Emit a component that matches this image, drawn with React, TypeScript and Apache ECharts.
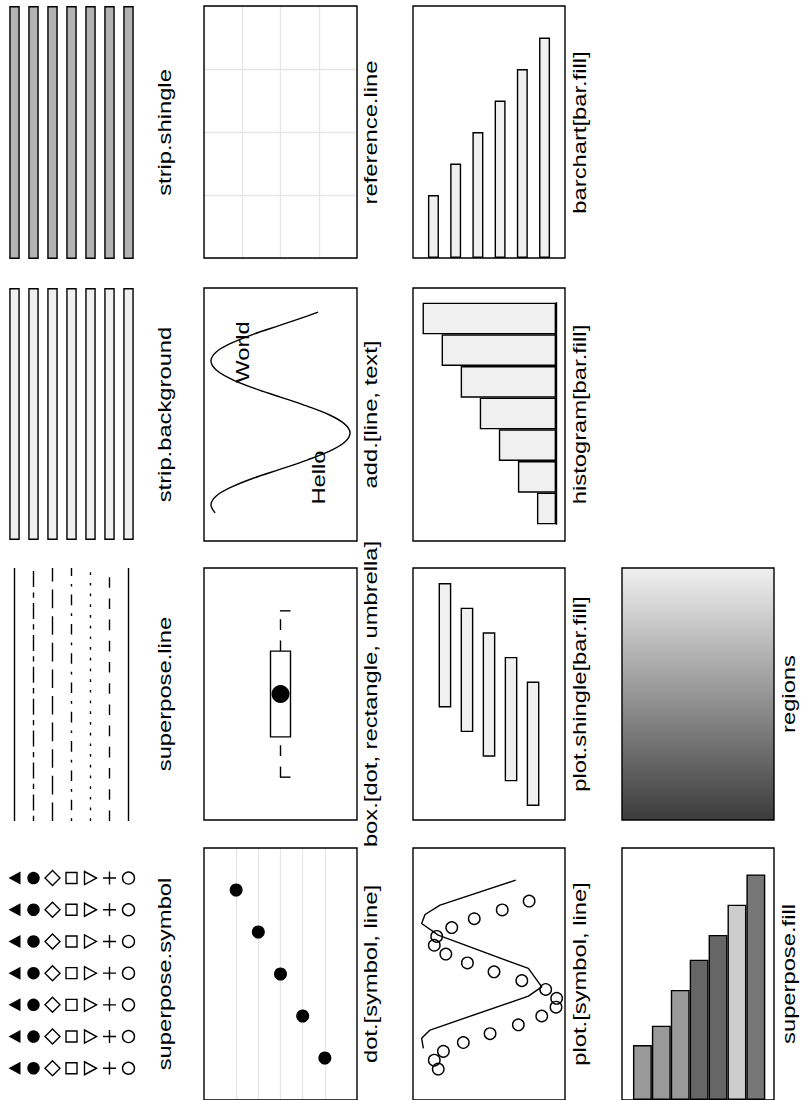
import React, { useEffect, useRef } from "react";
import * as echarts from "echarts";

// ---------------- data ----------------
const stripLevels = [1, 2, 3, 4, 5, 6, 7];
const stripHeights = [1, 1, 1, 1, 1, 1, 1];

const lineLevels = [1, 2, 3, 4, 5, 6, 7];
const lineDashes: any[] = ["solid", [5.3, 5.3, 16, 5.3], [18.6, 8], [2.7, 8, 10.6, 8], [2.7, 8], [10.6, 10.6], "solid"];

const symbolLevels = [1, 2, 3, 4, 5, 6, 7];
const symbolRows = [1, 2, 3, 4, 5, 6, 7];
const symbolKinds = ["triLeft", "dot", "diamond", "square", "triRight", "plus", "circle"];

const addLineT = [0.111, 0.142, 0.178, 0.213, 0.249, 0.284, 0.32, 0.355, 0.391, 0.427, 0.462, 0.498, 0.533, 0.569, 0.604, 0.64, 0.676, 0.711, 0.747, 0.782, 0.818, 0.853, 0.889, 0.905];
const addLineS = [0.94, 1.0, 0.924, 0.707, 0.383, 0, -0.383, -0.707, -0.924, -1, -0.924, -0.707, -0.383, 0, 0.383, 0.707, 0.924, 1, 0.924, 0.707, 0.383, 0, -0.383, -0.54];
const addTexts = ["Hello", "World"];
const addTextS = [-0.55, 0.54];
const addTextT = [0.251, 0.747];

const boxStats = [1.7, 3.3, 5.0, 6.7, 8.3];

const dotLevels = [1, 2, 3, 4, 5];
const dotValues = [5, 4, 3, 2, 1];

const barLevels = [1, 2, 3, 4, 5, 6];
const barValues = [2, 3, 4, 5, 6, 7];

const histBins = ["1", "2", "3", "4", "5", "6", "7"];
const histCounts = [1, 2, 3, 4, 5, 6, 7];

const shingleLevels = [1, 2, 3, 4, 5];
const shingleLow = [4.6, 3.6, 2.6, 1.6, 0.6];
const shingleHigh = [9.6, 8.6, 7.6, 6.6, 5.6];

const plotIndex = [1, 2, 3, 4, 5, 6, 7, 8, 9, 10, 11, 12, 13, 14, 15, 16, 17, 18, 19, 20];
const plotValues = [8.34, 8.6, 8.0, 6.69, 4.93, 3.07, 1.53, 0.59, 0.55, 1.27, 2.84, 4.67, 6.42, 7.84, 8.6, 8.44, 7.45, 5.97, 4.13, 2.36];
const plotLineIndex = [3.34, 4.47, 5.41, 9.25, 10.3, 12.38, 16.14, 17.46, 18.48, 19.53, 22.36];
const plotLineValues = [9.32, 9.43, 8.88, 2.41, 1.53, 2.41, 8.34, 9.43, 9.21, 8.22, 3.24];

const fillLevels = [1, 2, 3, 4, 5, 6, 7];
const fillValues = [2, 2.7, 4, 5.1, 6, 7.1, 8.2];
const fillColors = ["#999999", "#999999", "#999999", "#666666", "#666666", "#cccccc", "#777777"];

const regionTop = "#f0f0f0";
const regionBottom = "#3c3c3c";

const labels = [
  ["strip.shingle", "strip.background", "superpose.line", "superpose.symbol"],
  ["reference.line", "add.[line, text]", "box.[dot, rectangle, umbrella]", "dot.[symbol, line]"],
  ["barchart[bar.fill]", "histogram[bar.fill]", "plot.shingle[bar.fill]", "plot.[symbol, line]"],
  ["", "", "regions", "superpose.fill"],
];

// ---------------- layout ----------------
const colLabelX = [165, 370.5, 580, 789];
const rowCenterY = [132.5, 414.5, 694, 974];
const FONT = "'Liberation Sans', Arial, Helvetica, sans-serif";
const LW = 1.4;

const grids = [
  { left: 5, top: 6, width: 133, height: 253 }, // 0 strip.shingle
  { left: 5, top: 288, width: 133, height: 252 }, // 1 strip.background
  { left: 5, top: 568, width: 133, height: 253 }, // 2 superpose.line
  { left: 5, top: 862.2, width: 133, height: 221.9 }, // 3 superpose.symbol
  { left: 204, top: 6, width: 153, height: 252 }, // 4 reference.line
  { left: 204, top: 288, width: 153, height: 253 }, // 5 add
  { left: 204, top: 568, width: 153, height: 252 }, // 6 box
  { left: 204, top: 848, width: 153, height: 252 }, // 7 dot
  { left: 413, top: 6, width: 152, height: 252 }, // 8 barchart
  { left: 413, top: 302.7, width: 152, height: 221.6 }, // 9 histogram
  { left: 413, top: 568, width: 152, height: 252 }, // 10 shingle
  { left: 413, top: 848, width: 152, height: 252 }, // 11 plot
  { left: 622, top: 568, width: 152, height: 252 }, // 12 regions
  { left: 622, top: 848, width: 152, height: 252 }, // 13 superpose.fill
];

const frames = [
  [204, 6, 153, 252],
  [204, 288, 153, 253],
  [204, 568, 153, 252],
  [204, 848, 153, 252],
  [413, 6, 152, 252],
  [413, 288, 152, 253],
  [413, 568, 152, 252],
  [413, 848, 152, 252],
  [622, 568, 152, 252],
  [622, 848, 152, 252],
];

const hidden = { show: false };
function vAxis(gridIndex: number, min: number, max: number, extra: any = {}) {
  return {
    type: "value",
    gridIndex,
    min,
    max,
    axisLine: hidden,
    axisTick: hidden,
    axisLabel: hidden,
    splitLine: hidden,
    ...extra,
  };
}

function buildOption() {
  const xAxis: any[] = [
    vAxis(0, 0.5, 7.5),
    vAxis(1, 0.5, 7.5),
    vAxis(2, 0.5, 7.5),
    vAxis(3, 0.5, 7.5),
    vAxis(4, 0, 4, { interval: 1, splitLine: { show: true, lineStyle: { color: "#e6e6e6", width: 1.3 } } }),
    vAxis(5, -1.1, 1.1, { inverse: true }),
    vAxis(6, 0, 2),
    vAxis(7, -0.45, 6.45),
    vAxis(8, 0.08, 6.92),
    vAxis(9, -0.47, 7.5, { inverse: true }),
    vAxis(10, -0.45, 6.45),
    vAxis(11, 0, 10, { inverse: true }),
    { type: "category", gridIndex: 12, data: ["regions"], show: false },
    vAxis(13, -0.08, 7.96),
  ];
  const yAxis: any[] = [
    vAxis(0, 0, 1),
    vAxis(1, 0, 1),
    vAxis(2, 0, 1),
    vAxis(3, 0.5, 7.5),
    vAxis(4, 0, 4, { interval: 1, splitLine: { show: true, lineStyle: { color: "#e6e6e6", width: 1.3 } } }),
    vAxis(5, 0, 1),
    vAxis(6, 0, 10),
    vAxis(7, 0, 6),
    vAxis(8, 0, 8),
    {
      type: "category",
      gridIndex: 9,
      data: histBins,
      axisLine: { show: true, onZero: true, lineStyle: { color: "#000", width: LW } },
      axisTick: hidden,
      axisLabel: hidden,
      splitLine: hidden,
    },
    vAxis(10, 0, 10.24),
    vAxis(11, -2.5, 26),
    vAxis(12, 0, 1),
    vAxis(13, 0, 9.16),
  ];

  const series: any[] = [];

  // strips
  const stripStyle = (fill: string) => ({ color: fill, borderColor: "#000", borderWidth: LW });
  series.push({
    type: "bar", xAxisIndex: 0, yAxisIndex: 0, barWidth: 10.5,
    data: stripLevels.map((k, i) => [k, stripHeights[i]]),
    itemStyle: stripStyle("#b3b3b3"),
  });
  series.push({
    type: "bar", xAxisIndex: 1, yAxisIndex: 1, barWidth: 10.5,
    data: stripLevels.map((k, i) => [k, stripHeights[i]]),
    itemStyle: stripStyle("#f0f0f0"),
  });

  // superpose.line
  lineLevels.forEach((k, i) => {
    series.push({
      type: "line", xAxisIndex: 2, yAxisIndex: 2, symbol: "none",
      data: [[k, 0], [k, 1]],
      lineStyle: { color: "#000", width: LW, type: lineDashes[i], cap: "butt" },
    });
  });

  // superpose.symbol
  const symDefs: Record<string, any> = {
    triLeft: { symbol: "triangle", symbolSize: [13, 12], symbolRotate: 90, itemStyle: { color: "#000", opacity: 1 } },
    dot: { symbol: "circle", symbolSize: 12.5, itemStyle: { color: "#000", opacity: 1 } },
    diamond: { symbol: "diamond", symbolSize: [15, 15], itemStyle: { color: "none", borderColor: "#000", borderWidth: LW, opacity: 1 } },
    square: { symbol: "rect", symbolSize: 11, itemStyle: { color: "none", borderColor: "#000", borderWidth: LW, opacity: 1 } },
    triRight: { symbol: "triangle", symbolSize: [13, 12], symbolRotate: -90, itemStyle: { color: "none", borderColor: "#000", borderWidth: LW, opacity: 1 } },
    plus: { symbol: "path://M5 0 L5 10 M0 5 L10 5", symbolSize: 13, itemStyle: { color: "none", borderColor: "#000", borderWidth: LW, opacity: 1 } },
    circle: { symbol: "circle", symbolSize: 12, itemStyle: { color: "none", borderColor: "#000", borderWidth: LW, opacity: 1 } },
  };
  symbolLevels.forEach((k, i) => {
    const d = symDefs[symbolKinds[i]];
    series.push({
      type: "scatter", xAxisIndex: 3, yAxisIndex: 3,
      data: symbolRows.map((r) => [k, r]),
      ...d,
    });
  });

  // add.[line, text]
  series.push({
    type: "line", xAxisIndex: 5, yAxisIndex: 5, symbol: "none", smooth: 0.35,
    data: addLineT.map((t, i) => [addLineS[i], t]),
    lineStyle: { color: "#000", width: LW },
  });

  // box
  series.push({
    type: "custom", xAxisIndex: 6, yAxisIndex: 6,
    data: [[1, ...boxStats]],
    renderItem: (params: any, api: any) => {
      const pos = api.value(0);
      const pLo = api.coord([pos, api.value(1)]);
      const pQ1 = api.coord([pos, api.value(2)]);
      const pMed = api.coord([pos, api.value(3)]);
      const pQ3 = api.coord([pos, api.value(4)]);
      const pHi = api.coord([pos, api.value(5)]);
      const half = 10;
      const dashed = { stroke: "#000", lineWidth: LW, lineDash: [10.6, 10.6], fill: "none" };
      return {
        type: "group",
        children: [
          { type: "line", shape: { x1: pLo[0], y1: pLo[1], x2: pQ1[0], y2: pQ1[1] }, style: dashed },
          { type: "line", shape: { x1: pQ3[0], y1: pQ3[1], x2: pHi[0], y2: pHi[1] }, style: dashed },
          { type: "line", shape: { x1: pLo[0] + half, y1: pLo[1], x2: pLo[0] - half, y2: pLo[1] }, style: dashed },
          { type: "line", shape: { x1: pHi[0] + half, y1: pHi[1], x2: pHi[0] - half, y2: pHi[1] }, style: dashed },
          { type: "rect", shape: { x: pQ1[0] - half, y: pQ3[1], width: 2 * half, height: pQ1[1] - pQ3[1] }, style: { fill: "none", stroke: "#000", lineWidth: LW } },
          { type: "circle", shape: { cx: pMed[0], cy: pMed[1], r: 9 }, style: { fill: "#000" } },
        ],
      };
    },
  });

  // dot: reference lines first, then the dots on top
  series.push({
    type: "line", xAxisIndex: 7, yAxisIndex: 7, data: [], z: 1,
    markLine: {
      silent: true, symbol: "none", label: { show: false }, animation: false,
      lineStyle: { color: "#e6e6e6", type: "solid", width: 1.3 },
      data: dotLevels.map((k) => ({ xAxis: k })),
    },
  });
  series.push({
    type: "scatter", xAxisIndex: 7, yAxisIndex: 7, symbol: "circle", symbolSize: 13,
    data: dotLevels.map((k, i) => [k, dotValues[i]]),
    itemStyle: { color: "#000", opacity: 1 },
    z: 5,
  });

  // barchart
  series.push({
    type: "bar", xAxisIndex: 8, yAxisIndex: 8, barWidth: 11,
    data: barLevels.map((k, i) => [k, barValues[i]]),
    itemStyle: { color: "#f0f0f0", borderColor: "#000", borderWidth: LW },
  });

  // histogram
  series.push({
    type: "bar", xAxisIndex: 9, yAxisIndex: 9, barWidth: "100%",
    data: histCounts,
    itemStyle: { color: "#f0f0f0", borderColor: "#000", borderWidth: LW },
  });

  // plot.shingle
  series.push({
    type: "custom", xAxisIndex: 10, yAxisIndex: 10,
    data: shingleLevels.map((k, i) => [k, shingleLow[i], shingleHigh[i]]),
    renderItem: (params: any, api: any) => {
      const lo = api.coord([api.value(0), api.value(1)]);
      const hi = api.coord([api.value(0), api.value(2)]);
      const w = 11.3;
      return {
        type: "rect",
        shape: { x: lo[0] - w / 2, y: hi[1], width: w, height: lo[1] - hi[1] },
        style: { fill: "#f0f0f0", stroke: "#000", lineWidth: LW },
      };
    },
  });

  // plot.[symbol, line]
  series.push({
    type: "scatter", xAxisIndex: 11, yAxisIndex: 11, symbol: "circle", symbolSize: 11.5,
    data: plotIndex.map((k, i) => [plotValues[i], k]),
    itemStyle: { color: "none", borderColor: "#000", borderWidth: LW, opacity: 1 },
  });
  series.push({
    type: "line", xAxisIndex: 11, yAxisIndex: 11, symbol: "none",
    data: plotLineIndex.map((k, i) => [plotLineValues[i], k]),
    lineStyle: { color: "#000", width: LW },
  });

  // regions
  series.push({
    type: "bar", xAxisIndex: 12, yAxisIndex: 12, barWidth: "100%",
    data: [1],
    itemStyle: {
      color: new echarts.graphic.LinearGradient(0, 0, 0, 1, [
        { offset: 0, color: regionTop },
        { offset: 1, color: regionBottom },
      ]),
    },
  });

  // superpose.fill
  series.push({
    type: "bar", xAxisIndex: 13, yAxisIndex: 13, barWidth: 18.9,
    data: fillLevels.map((k, i) => ({ value: [k, fillValues[i]], itemStyle: { color: fillColors[i] } })),
    itemStyle: { borderColor: "#000", borderWidth: LW },
  });

  return {
    animation: false,
    backgroundColor: "#fff",
    grid: grids.map((g) => ({ ...g, containLabel: false })),
    xAxis,
    yAxis,
    series,
  };
}

function buildGraphics(chart: any) {
  const els: any[] = [];
  frames.forEach(([l, t, w, h]) => {
    els.push({
      type: "rect", z: 100, silent: true,
      shape: { x: l, y: t, width: w, height: h },
      style: { fill: "none", stroke: "#000", lineWidth: LW },
    });
  });
  labels.forEach((col, c) => {
    col.forEach((txt, r) => {
      if (!txt) return;
      els.push({
        type: "text", z: 101, silent: true,
        x: colLabelX[c], y: rowCenterY[r], rotation: Math.PI / 2, scaleX: 1.32,
        style: { text: txt, fontSize: 18, fontFamily: FONT, fill: "#000", align: "center", verticalAlign: "middle", textAlign: "center", textVerticalAlign: "middle" },
      });
    });
  });
  addTexts.forEach((txt, i) => {
    const p = chart.convertToPixel({ gridIndex: 5 }, [addTextS[i], addTextT[i]]);
    els.push({
      type: "text", z: 101, silent: true,
      x: p[0], y: p[1], rotation: Math.PI / 2, scaleX: 1.32,
      style: { text: txt, fontSize: 18, fontFamily: FONT, fill: "#000", align: "center", verticalAlign: "middle", textAlign: "center", textVerticalAlign: "middle" },
    });
  });
  return els;
}

export default function App() {
  const ref = useRef<HTMLDivElement>(null);
  useEffect(() => {
    if (!ref.current) return;
    const chart = echarts.init(ref.current, null, { renderer: "svg" });
    chart.setOption(buildOption() as any);
    chart.setOption({ graphic: { elements: buildGraphics(chart) } } as any);
    return () => chart.dispose();
  }, []);
  return (
    <div
      ref={ref}
      style={{ position: "absolute", left: 0, top: 0, width: 803, height: 1100, background: "#fff" }}
    />
  );
}
